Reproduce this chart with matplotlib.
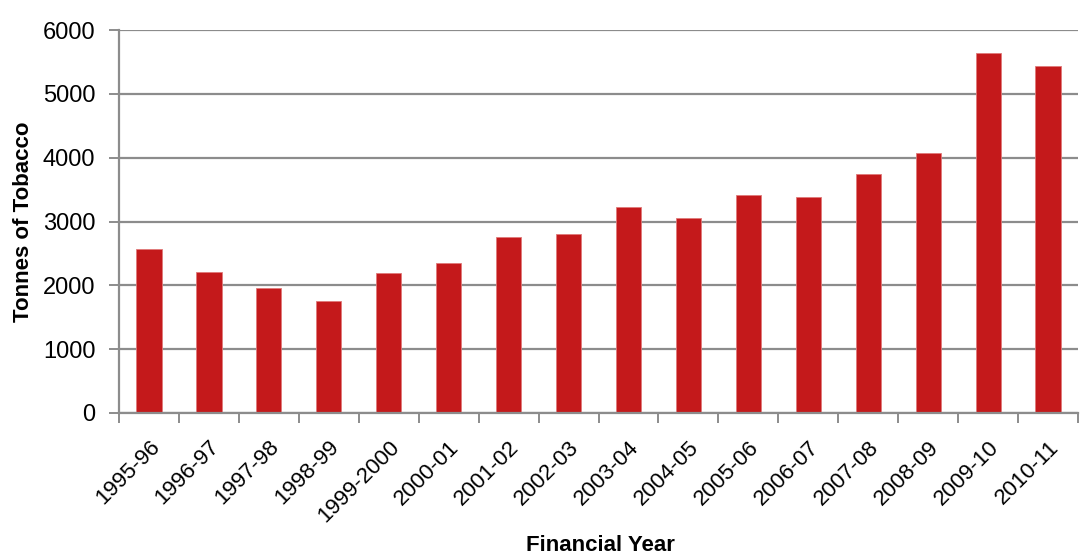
import matplotlib
matplotlib.use("Agg")
import matplotlib.pyplot as plt
import numpy as np

years = ["1995-96", "1996-97", "1997-98", "1998-99", "1999-2000", "2000-01",
         "2001-02", "2002-03", "2003-04", "2004-05", "2005-06", "2006-07",
         "2007-08", "2008-09", "2009-10", "2010-11"]
tonnes = [2570, 2210, 1960, 1750, 2200, 2350, 2750, 2810, 3220, 3050,
          3420, 3390, 3740, 4070, 5640, 5430]
y_ticks = [0, 1000, 2000, 3000, 4000, 5000, 6000]

plt.rcParams['font.family'] = ['Liberation Sans', 'DejaVu Sans']

fig = plt.figure(figsize=(10.82, 5.59), dpi=100)
ax = fig.add_axes([0.110, 0.2612, 0.8863, 0.6851])

x = np.arange(len(years))
grid_c = "#8c8c8c"
ax.bar(x, tonnes, width=0.42, color="#C4191B", edgecolor="#E07A7A",
       linewidth=0.6, zorder=3)

ax.set_xlim(-0.5, len(years) - 0.5)
ax.set_ylim(0, 6000)
ax.set_yticks(y_ticks)
ax.yaxis.grid(True, color=grid_c, linewidth=1.6, zorder=0)

ax.set_xticks(x)
ax.set_xticklabels(years, rotation=45, ha="right", rotation_mode="anchor")
ax.set_xticks(np.arange(-0.5, len(years)), minor=True)
ax.tick_params(axis="x", which="major", length=0, pad=17, labelsize=16)
ax.tick_params(axis="x", which="minor", length=7, width=1.4, color=grid_c,
               direction="out")
ax.tick_params(axis="y", length=7, width=1.4, color=grid_c, labelsize=17,
               pad=10)

for side in ["top", "right"]:
    ax.spines[side].set_visible(False)
for side in ["left", "bottom"]:
    ax.spines[side].set_color(grid_c)
    ax.spines[side].set_linewidth(1.6)
    ax.spines[side].set_zorder(4)

ax.set_ylabel("Tonnes of Tobacco", fontsize=16, fontweight="bold", labelpad=6)
fig.text(0.5545, 0.005, "Financial Year", fontsize=16, fontweight="bold",
         ha="center", va="bottom")

fig.savefig("out.png", dpi=100)
